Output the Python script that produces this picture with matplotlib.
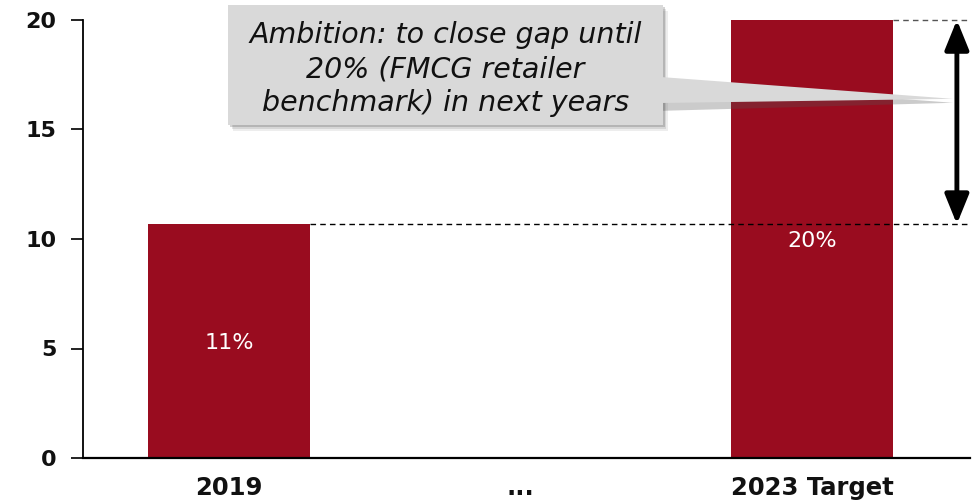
import matplotlib
matplotlib.use("Agg")
import matplotlib.pyplot as plt
from matplotlib.patches import Rectangle, Polygon, FancyArrowPatch

categories = ["2019", "...", "2023 Target"]
values = [10.68, None, 20.0]
bar_labels = ["11%", "", "20%"]
yticks = [0, 5, 10, 15, 20]
callout_text = "Ambition: to close gap until\n20% (FMCG retailer\nbenchmark) in next years"

bar_color = "#990C1F"
box_color = "#D9D9D9"
plt.rcParams['font.family'] = ['DejaVu Sans']

fig = plt.figure(figsize=(9.72, 5.03), dpi=100)
ax = fig.add_axes([83/972, 45/503, 887/972, 438/503])

xs = list(range(len(categories)))
for x, v, lab in zip(xs, values, bar_labels):
    if v is None:
        continue
    ax.bar(x, v, width=0.556, color=bar_color, zorder=2)
    ax.text(x, v / 2 - 0.1, lab, ha='center', va='center', color='white', fontsize=16,
            zorder=5, bbox=dict(facecolor=bar_color, edgecolor='none', pad=1))

ax.set_xlim(-0.501, 2.542)
ax.set_ylim(0, 20)
ax.set_yticks(yticks)
ax.set_xticks(xs)
ax.set_xticklabels(categories, fontsize=17.5, fontweight='bold', color='#111111')
ax.tick_params(axis='x', length=0, pad=13)
ax.tick_params(axis='y', length=9, width=1.3, labelsize=16, pad=10, colors='#111111')
for t in ax.get_yticklabels():
    t.set_fontweight('bold')
for s in ['top', 'right']:
    ax.spines[s].set_visible(False)
ax.spines['left'].set_linewidth(1.3)
ax.spines['bottom'].set_linewidth(1.6)

# dashed reference lines
v0, v2 = values[0], values[2]
ax.plot([0 + 0.278, 2.542], [v0, v0], ls=(0, (4, 3)), color='black', lw=1, zorder=3, clip_on=False)
ax.plot([2 + 0.278, 2.542], [v2, v2], ls=(0, (4, 3)), color='#555555', lw=1, zorder=3, clip_on=False)

# double arrow
arr = FancyArrowPatch((2.497, v0), (2.497, v2), arrowstyle='<|-|>,head_length=0.64,head_width=0.26',
                      mutation_scale=28, color='black', lw=3.5, shrinkA=0, shrinkB=0,
                      zorder=6, clip_on=False)
ax.add_patch(arr)

# callout box with shadow
bx0, bx1, by0, by1 = -0.003, 1.488, 15.2, 20.68
dx, dy = 0.012, -0.18
for i, a in enumerate([0.10, 0.15, 0.25]):
    o = (3 - i)
    ax.add_patch(Rectangle((bx0 + dx * o / 2, by0 + dy * o / 2), bx1 - bx0, by1 - by0,
                           facecolor='#555555', edgecolor='none', alpha=a, zorder=6, clip_on=False))
# pointer shadow
ax.add_patch(Polygon([(bx1 - 0.01, 17.4 + dy), (2.484, 16.4 + dy), (bx1 - 0.01, 16.21 + dy * 2)],
                     closed=True, facecolor='#555555', edgecolor='none', alpha=0.3, zorder=6, clip_on=False))
ax.add_patch(Rectangle((bx0, by0), bx1 - bx0, by1 - by0, facecolor=box_color,
                       edgecolor='none', zorder=7, clip_on=False))
ax.add_patch(Polygon([(bx1 - 0.01, 17.4), (2.484, 16.4), (bx1 - 0.01, 16.21)],
                     closed=True, facecolor=box_color, edgecolor='none', zorder=7, clip_on=False))
ax.text((bx0 + bx1) / 2, 17.75, callout_text, ha='center', va='center',
        fontsize=20.5, style='italic', color='#111111', linespacing=1.27, zorder=8)

fig.savefig("out.png", dpi=100)
